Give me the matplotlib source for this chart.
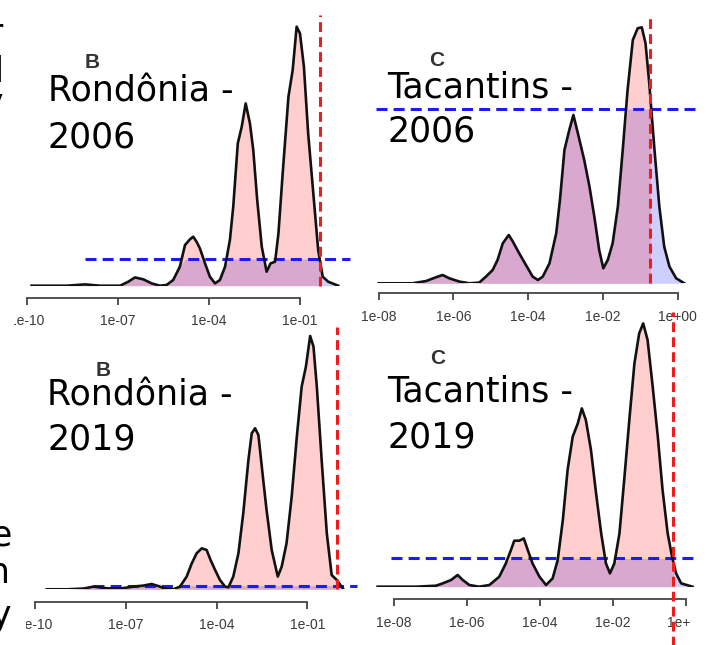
import matplotlib
matplotlib.use('Agg')
import matplotlib.pyplot as plt
import matplotlib.patches as patches
from matplotlib.ticker import NullLocator
import numpy as np

W, H = 716, 645

# Rondônia 2006 (B, top left) -- log10 of x and density
ro06_logx = [-9.85, -9.24, -8.69, -8.09, -7.59, -6.93, -6.66, -6.44, -6.16, -5.89,
             -5.62, -5.40, -5.18, -4.96, -4.79, -4.63, -4.52, -4.41, -4.30, -4.13,
             -3.97, -3.80, -3.64, -3.47, -3.31, -3.20, -3.05, -2.92, -2.79, -2.65,
             -2.54, -2.41, -2.26, -2.10, -1.97, -1.82, -1.71, -1.57, -1.38, -1.24,
             -1.11, -1.00, -0.87, -0.73, -0.56, -0.40, -0.25, -0.07, 0.26]
ro06_dens = [0.0, 0.0, 0.0, 0.013, 0.0, 0.0, 0.04, 0.083, 0.063, 0.023,
             0.0, 0.007, 0.057, 0.19, 0.407, 0.463, 0.49, 0.44, 0.373, 0.223,
             0.09, 0.023, 0.057, 0.19, 0.457, 0.79, 1.423, 1.59, 1.823, 1.623,
             1.357, 0.857, 0.39, 0.14, 0.223, 0.24, 0.523, 1.123, 1.89, 2.157,
             2.59, 2.523, 2.19, 1.523, 0.923, 0.357, 0.09, 0.04, 0.0]
ro06_cut = -0.34
ro06_level = 0.267

# Tacantins 2006 (C, top right)
to06_logx = [-8.00, -7.54, -7.09, -6.73, -6.47, -6.29, -6.11, -5.84, -5.57, -5.31,
             -5.13, -4.95, -4.82, -4.68, -4.52, -4.41, -4.24, -4.06, -3.88, -3.74,
             -3.61, -3.43, -3.25, -3.15, -3.03, -2.90, -2.79, -2.67, -2.50, -2.36,
             -2.23, -2.10, -1.99, -1.87, -1.74, -1.60, -1.47, -1.34, -1.20, -1.07,
             -0.96, -0.86, -0.76, -0.62, -0.49, -0.36, -0.22, -0.04, 0.18]
to06_dens = [0.0, 0.0, 0.0, 0.023, 0.06, 0.083, 0.05, 0.017, 0.0, 0.007,
             0.067, 0.133, 0.233, 0.40, 0.483, 0.417, 0.30, 0.183, 0.067, 0.033,
             0.067, 0.20, 0.50, 0.833, 1.333, 1.533, 1.683, 1.50, 1.233, 0.967,
             0.667, 0.333, 0.15, 0.233, 0.40, 0.767, 1.333, 1.933, 2.433, 2.55,
             2.56, 2.40, 2.00, 1.333, 0.767, 0.367, 0.167, 0.05, 0.0]
to06_cut = -0.74
to06_level = 1.743

# Rondônia 2019 (B, bottom left)
ro19_logx = [-9.61, -8.95, -8.40, -8.07, -7.63, -7.19, -6.75, -6.42, -6.15, -5.93,
             -5.70, -5.43, -5.21, -4.99, -4.82, -4.66, -4.49, -4.33, -4.20, -4.05,
             -3.89, -3.72, -3.61, -3.45, -3.28, -3.12, -2.95, -2.84, -2.73, -2.62,
             -2.46, -2.35, -2.18, -1.98, -1.85, -1.69, -1.52, -1.35, -1.19, -1.05,
             -0.91, -0.80, -0.69, -0.53, -0.36, -0.20, -0.03, 0.19]
ro19_dens = [0.0, 0.0, 0.007, 0.027, 0.01, 0.007, 0.027, 0.037, 0.053, 0.033,
             0.007, 0.0, 0.027, 0.127, 0.26, 0.36, 0.41, 0.393, 0.293, 0.193,
             0.093, 0.027, 0.02, 0.127, 0.36, 0.76, 1.293, 1.56, 1.61, 1.543,
             1.093, 0.793, 0.393, 0.127, 0.227, 0.46, 0.927, 1.527, 2.027, 2.227,
             2.533, 2.427, 2.027, 1.293, 0.56, 0.143, 0.093, 0.0]
ro19_cut = -0.02
ro19_level = 0.037

# Tacantins 2019 (C, bottom right)
to19_logx = [-8.44, -7.94, -7.39, -6.84, -6.66, -6.43, -6.25, -6.11, -5.93, -5.66,
             -5.38, -5.11, -4.93, -4.79, -4.70, -4.56, -4.44, -4.33, -4.20, -4.01,
             -3.83, -3.65, -3.51, -3.37, -3.24, -3.10, -2.96, -2.85, -2.74, -2.60,
             -2.46, -2.32, -2.19, -2.08, -1.96, -1.82, -1.69, -1.55, -1.41, -1.28,
             -1.17, -1.05, -0.91, -0.77, -0.64, -0.50, -0.38, -0.27, -0.13, 0.18]
to19_dens = [0.0, 0.0, 0.0, 0.01, 0.033, 0.067, 0.117, 0.067, 0.017, 0.0,
             0.017, 0.10, 0.233, 0.367, 0.46, 0.46, 0.483, 0.367, 0.233, 0.10,
             0.017, 0.083, 0.267, 0.667, 1.167, 1.50, 1.633, 1.783, 1.667, 1.367,
             0.933, 0.533, 0.233, 0.133, 0.233, 0.533, 1.067, 1.667, 2.233, 2.533,
             2.633, 2.467, 2.00, 1.50, 0.967, 0.533, 0.30, 0.133, 0.033, 0.0]
to19_cut = -0.36
to19_level = 0.283

ticks_left = [-10, -7, -4, -1]
labels_left = ['1e-10', '1e-07', '1e-04', '1e-01']
ticks_right = [-8, -6, -4, -2, 0]
labels_right = ['1e-08', '1e-06', '1e-04', '1e-02', '1e+00']

RED = '#f01c1c'
BLUE = '#1c1cf0'
BIG_FONT = dict(family=['DejaVu Sans'], fontsize=25, color='black')


def _px_axes(fig, lo, hi, ref_log, ref_px, ppd, top_px, base_px, ytop):
    x0 = ref_px + (lo - ref_log) * ppd
    x1 = ref_px + (hi - ref_log) * ppd
    ax = fig.add_axes([x0 / W, 1 - base_px / H, (x1 - x0) / W, (base_px - top_px) / H])
    ax.set_xscale('log')
    ax.set_xlim(10 ** lo, 10 ** hi)
    ax.set_ylim(0, ytop)
    ax.patch.set_visible(False)
    return ax


def _density_panel(ax, logx, dens, cut, level, blue_span, red_span, ticks, labels, spine_px):
    x = 10 ** np.array(logx)
    y = np.array(dens)

    ax.fill_between(x, 0, np.minimum(y, level), color='#0000ff', alpha=0.19, lw=0)
    pink = ax.fill_between(x, 0, y, color='#ff0000', alpha=0.19, lw=0)
    clip = patches.Rectangle((x[0] / 10, 0), 10 ** cut - x[0] / 10, 10, transform=ax.transData)
    pink.set_clip_path(clip)

    ax.plot([10 ** blue_span[0], 10 ** blue_span[1]], [level, level], color=BLUE,
            lw=2.2, dashes=(3.6, 2.0), clip_on=False, zorder=3)
    ax.plot(x, y, color='#111111', lw=1.9, zorder=4, solid_joinstyle='round')
    ax.plot([10 ** cut, 10 ** cut], red_span, color=RED, lw=2.2,
            dashes=(3.2, 1.7), clip_on=False, zorder=5)

    for s in ['top', 'right', 'left']:
        ax.spines[s].set_visible(False)
    sp = ax.spines['bottom']
    sp.set_position(('outward', spine_px * 0.72))
    sp.set_bounds(10 ** ticks[0], 10 ** ticks[-1])
    sp.set_color('#444444')
    sp.set_linewidth(1.3)
    ax.set_yticks([])
    ax.set_xticks([10 ** t for t in ticks])
    ax.set_xticklabels(labels, family='Liberation Sans')
    ax.xaxis.set_minor_locator(NullLocator())
    ax.tick_params(axis='x', length=5, width=1.3, color='#444444', pad=7,
                   labelsize=10, labelcolor='#3a3a3a')


fig = plt.figure(figsize=(W / 100, H / 100), dpi=100)

# top left: Rondônia 2006
ax1 = _px_axes(fig, -10.2, 0.75, -10, 27.0, 30.33, 14, 285.7, 2.717)
_density_panel(ax1, ro06_logx, ro06_dens, ro06_cut, ro06_level, (-8.09, 0.65), (0, 2.71),
               ticks_left, labels_left, 12)

# top right: Tacantins 2006
ax2 = _px_axes(fig, -8.1, 0.5, -8, 378.7, 37.37, 14, 283.3, 2.693)
_density_panel(ax2, to06_logx, to06_dens, to06_cut, to06_level, (-8.07, 0.49), (0, 2.68),
               ticks_right, labels_right, 10)

# bottom left: Rondônia 2019
ax3 = _px_axes(fig, -10.4, 0.65, -10, 35.0, 30.27, 325, 589.3, 2.643)
_density_panel(ax3, ro19_logx, ro19_dens, ro19_cut, ro19_level, (-8.07, 0.63), (0, 2.62),
               ticks_left, labels_left, 12.4)

# bottom right: Tacantins 2019
ax4 = _px_axes(fig, -8.5, 0.9, -8, 393.7, 36.53, 320, 586.7, 2.667)
_density_panel(ax4, to19_logx, to19_dens, to19_cut, to19_level, (-8.07, 0.23), (-0.6, 2.75),
               ticks_right, labels_right, 12.6)


def _ftext(xp, yp, s, **kw):
    fig.text(xp / W, 1 - yp / H, s, **kw)


# panel letters
for xp, yp, s in [(92, 62, 'B'), (437, 61, 'C'), (103, 370, 'B'), (438, 358, 'C')]:
    _ftext(xp, yp, s, ha='center', va='center', fontsize=15, fontweight='bold',
           family='Liberation Sans', color='#333333')

# region / year labels
for xp, yp, s in [(48, 102, 'Rondônia -'), (48, 147, '2006'),
                  (387, 98, 'Tacantins -'), (387, 142, '2006'),
                  (47, 405, 'Rondônia -'), (47, 450, '2019'),
                  (387, 402, 'Tacantins -'), (387, 447, '2019')]:
    _ftext(xp, yp, s, ha='left', va='baseline', **BIG_FONT)

# white strips from the neighbouring panels covering the edges
for x0, y0, x1, y1 in [(0, 300, 14, 645), (0, 612, 26, 645), (690, 612, 716, 645)]:
    fig.patches.append(patches.Rectangle((x0 / W, 1 - y1 / H), (x1 - x0) / W, (y1 - y0) / H,
                                         transform=fig.transFigure, facecolor='white',
                                         edgecolor='none', zorder=10))

# cut-off text from the neighbouring panel
for xp, yp, s in [(3, 44, 'r'), (3, 82, 'd'), (4, 114, 'y'),
                  (11, 545, 'e'), (10, 583, 'n'), (12, 626, 'y')]:
    _ftext(xp, yp, s, ha='right', va='baseline', zorder=11, **BIG_FONT)

fig.savefig('out.png', dpi=100)
